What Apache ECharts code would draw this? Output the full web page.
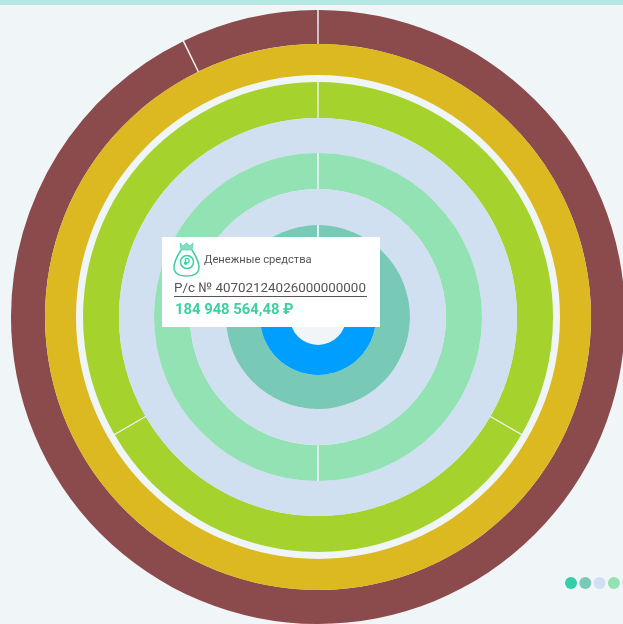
<!DOCTYPE html>
<html>
<head>
<meta charset="utf-8">
<title>Денежные средства</title>
<script src="https://cdn.jsdelivr.net/npm/echarts@6/dist/echarts.min.js"></script>
<style>
  html, body { margin: 0; padding: 0; background: #f0f5f8; overflow: hidden; }
  #main { width: 623px; height: 624px; filter: blur(0.6px); }
</style>
</head>
<body>
<div id="main"></div>
<script>
// кольца снаружи внутрь, значения — доли сегментов в градусах
var ring1Values = [334, 26]
var ring2Values = [360]
var ring3Values = [120, 120, 120]
var ring4Values = [360]
var ring5Values = [180, 180]
var ring6Values = [360]
var ring7Values = [270, 90]
var ring8Values = [360]

var cardTitle = 'Денежные средства'
var cardAccount = 'Р/с № 40702124026000000000'
var cardAmount = '184 948 564,48 ₽'

var dotColors = ['#33cfa9', '#78c9b5', '#d0e0f1', '#93e2b4', '#d0e0f1']

var center = [318, 317]
var greenText = '#3ecfa3'

// зазор между сегментами делаем через padAngle, чтобы не было обводки по дугам
function makeRing(values, inner, outer, color, gap) {
  return {
    type: 'pie',
    silent: true,
    clockwise: true,
    startAngle: 90,
    padAngle: gap || 0,
    center: center,
    radius: [inner, outer],
    label: { show: false },
    labelLine: { show: false },
    itemStyle: { color: color, borderWidth: 0 },
    data: values.map(function (v) { return { value: v } })
  }
}

var graphics = [
  // полоса сверху
  { type: 'rect', shape: { x: 0, y: 0, width: 623, height: 5 }, style: { fill: '#b5e8e2' } },
  // карточка
  { type: 'rect', z: 10, shape: { x: 162, y: 237, width: 218, height: 90 }, style: { fill: '#ffffff' } },
  // мешок
  {
    type: 'bezierCurve', z: 11,
    shape: { x1: 181, y1: 250, cpx1: 170, cpy1: 267, cpx2: 172, cpy2: 276, x2: 186.5, y2: 276 },
    style: { fill: 'none', stroke: greenText, lineWidth: 1.5 }
  },
  {
    type: 'bezierCurve', z: 11,
    shape: { x1: 192, y1: 250, cpx1: 203, cpy1: 267, cpx2: 201, cpy2: 276, x2: 186.5, y2: 276 },
    style: { fill: 'none', stroke: greenText, lineWidth: 1.5 }
  },
  {
    type: 'polygon', z: 11,
    shape: { points: [[180, 243], [183, 246], [186.5, 243], [190, 246], [193, 243], [192, 250], [181, 250]] },
    style: { fill: greenText, opacity: 0.65, stroke: greenText, lineWidth: 1 }
  },
  { type: 'circle', z: 11, shape: { cx: 187, cy: 262, r: 6.5 }, style: { fill: 'none', stroke: greenText, lineWidth: 1.5 } },
  { type: 'text', z: 12, style: { x: 187, y: 262.5, text: '₽', fill: greenText, font: 'bold 9px Roboto', align: 'center', verticalAlign: 'middle' } },
  { type: 'text', z: 11, style: { x: 204, y: 260, text: cardTitle, fill: '#555555', font: '11.2px Roboto', verticalAlign: 'middle' } },
  { type: 'text', z: 11, style: { x: 174, y: 289, text: cardAccount, fill: '#555555', font: '13.4px Roboto', verticalAlign: 'middle' } },
  { type: 'line', z: 11, shape: { x1: 174, y1: 296.5, x2: 367, y2: 296.5 }, style: { stroke: '#555555', lineWidth: 1 } },
  { type: 'text', z: 11, style: { x: 175, y: 310, text: cardAmount, fill: greenText, font: 'bold 14.8px Roboto', verticalAlign: 'middle' } }
]

// точки справа внизу
dotColors.forEach(function (c, i) {
  graphics.push({ type: 'circle', shape: { cx: 571 + i * 14.3, cy: 583, r: 6 }, style: { fill: c } })
})

var myChart = echarts.init(document.getElementById('main'))
myChart.setOption({
  animation: false,
  backgroundColor: '#f0f5f8',
  series: [
    makeRing(ring1Values, 273, 307, '#8b4a4c', 0.28),
    makeRing(ring2Values, 242, 273, '#dcb921'),
    makeRing(ring3Values, 199, 235, '#a6d22d', 0.35),
    makeRing(ring4Values, 164, 199, '#d0e0f1'),
    makeRing(ring5Values, 128, 164, '#93e2b4', 0.6),
    makeRing(ring6Values, 92, 128, '#d0e0f1'),
    makeRing(ring7Values, 58, 92, '#78c9b5', 1.2),
    makeRing(ring8Values, 28, 58, '#009fff')
  ],
  graphic: { elements: graphics }
})
</script>
</body>
</html>
